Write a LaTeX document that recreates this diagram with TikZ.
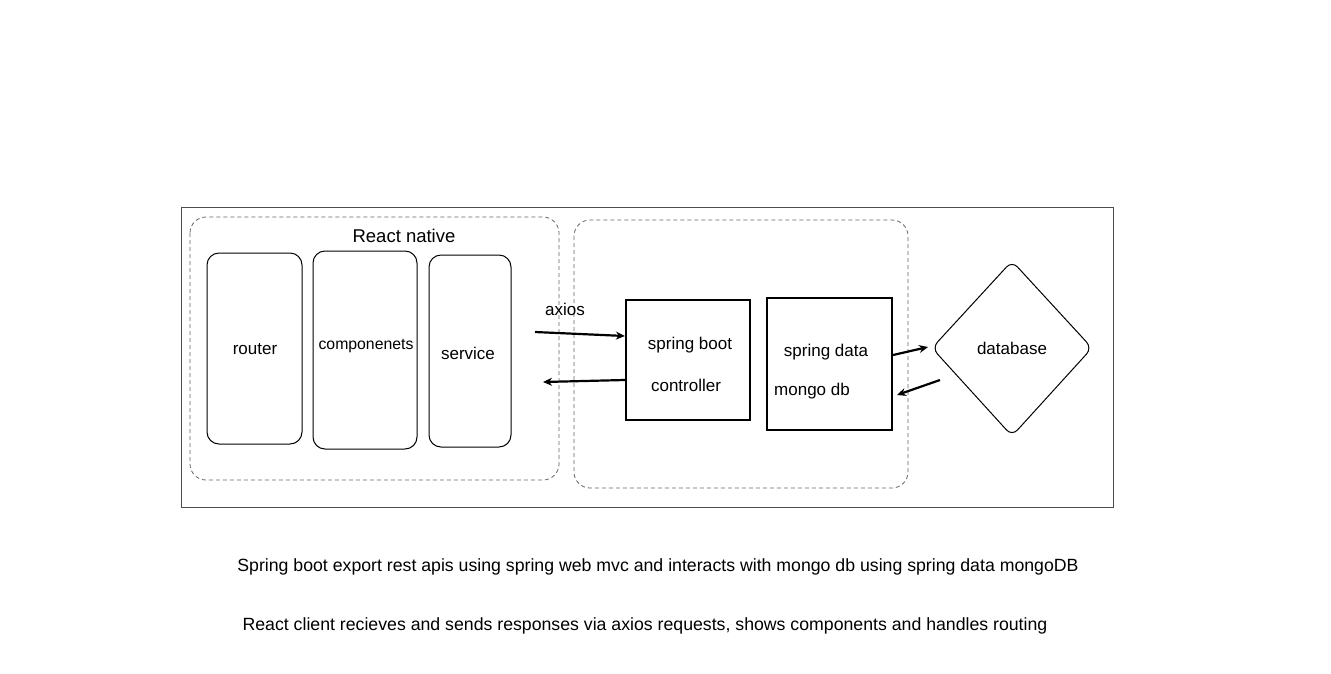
\documentclass[tikz,border=0pt]{standalone}
\usepackage{fontspec}
\setmainfont{Liberation Sans}
\usetikzlibrary{arrows.meta}
\begin{document}
\begin{tikzpicture}[x=1pt,y=-1pt,
  outerbox/.style={draw=black!70,line width=0.8pt},
  groupbox/.style={draw=black!60,dashed,dash pattern=on 4pt off 3pt,rounded corners=16pt,line width=0.8pt},
  softbox/.style={draw=black,rounded corners=12pt,line width=1pt},
  hardbox/.style={draw=black,line width=2.2pt},
  lbl/.style={font=\fontsize{17}{19}\selectfont,inner sep=0pt},
  note/.style={font=\fontsize{17.7}{20}\selectfont,inner sep=0pt},
  conn/.style={line width=2.2pt,-{Stealth[length=9pt,width=8pt]}}]
\useasboundingbox (0,0) rectangle (1331,673);
\fill[white] (0,0) rectangle (1331,673);
% outer frame
\draw[outerbox] (181,207) rectangle (1113,507);
% groups
\draw[groupbox] (190,217) rectangle (559,480);
\draw[groupbox] (574,220) rectangle (908,488);
\node[lbl,font=\fontsize{18.5}{20}\selectfont] (rn) at (404,236) {React native};
% react boxes
\draw[softbox] (207,253) rectangle (302,444);
\draw[softbox] (313,251) rectangle (417,449);
\draw[softbox] (429,255) rectangle (511,447);
\node[lbl] (router) at (255,349) {router};
\node[lbl,font=\fontsize{15.8}{18}\selectfont] (comp) at (366,346) {componenets};
\node[lbl] (serv) at (468,353) {service};
% spring boxes
\node[hardbox,minimum width=124pt,minimum height=120pt,inner sep=0pt] (ctrl) at (688,360) {};
\node[lbl] at (690,345) {spring boot};
\node[lbl] at (686,385) {controller};
\node[hardbox,minimum width=125pt,minimum height=132pt,inner sep=0pt] (data) at (829.5,364) {};
\node[lbl] at (826,352) {spring data};
\node[lbl] at (812,391) {mongo db};
% database diamond
\coordinate (dbc) at (1012,348);
\draw[line width=1pt,rounded corners=8pt] (1012,261) -- (1092,348) -- (1012,436) -- (932,348) -- cycle;
\node[lbl] (db) at (1012,348) {database};
% axios
\node[lbl] (ax) at (565,309) {axios};
\coordinate (cin) at (535,332);
\coordinate (cout) at (543,382);
\draw[conn] (cin) -- (ctrl.west |- 0,336);
\draw[conn] (ctrl.west |- 0,380) -- (cout);
\coordinate (dbin) at (928,347);
\coordinate (dbout) at (940,380);
\draw[conn] (data.east |- 0,355) -- (dbin);
\draw[conn] (dbout) -- (897,395);
% notes
\node[note] (n1) at (658,567) {Spring boot export rest apis using spring web mvc and interacts with mongo db using spring data mongoDB};
\node[note] (n2) at (645,626) {React client recieves and sends responses via axios requests, shows components and handles routing};
\end{tikzpicture}
\end{document}
